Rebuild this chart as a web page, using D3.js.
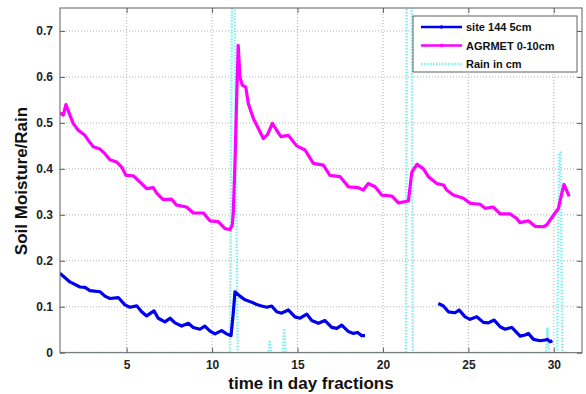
<!DOCTYPE html>
<html><head><meta charset="utf-8">
<script src="https://cdn.jsdelivr.net/npm/d3@7"></script>
<style>
body{margin:0;background:#fff;}
text{font-family:Arial,"Liberation Sans",sans-serif;font-weight:bold;}
</style></head>
<body><svg id="c" width="586" height="394"></svg>
<script>
const xTicks=[5,10,15,20,25,30];
const yTicks=[0,0.1,0.2,0.3,0.4,0.5,0.6,0.7];
const seriesNames=["site 144 5cm","AGRMET 0-10cm","Rain in cm"];

const siteTime=[1.09,1.68,2.27,2.56,2.85,3.44,3.73,4.02,4.51,4.90,5.19,5.59,5.88,6.17,6.60,6.85,7.24,7.54,7.83,8.22,8.61,8.90,9.29,9.58,9.88,10.17,10.56,10.85,11.11,11.24,11.34,11.63,11.93,12.32,12.61,12.90,13.20,13.49,13.78,14.07,14.46,14.85,15.15,15.54,15.83,16.22,16.61,17.0,17.30,17.59,17.98,18.27,18.52,18.76,18.95,21.0,23.24,23.54,23.83,24.22,24.46,24.81,25.10,25.49,25.88,26.17,26.51,26.86,27.15,27.54,28.03,28.32,28.51,28.81,29.20,29.49,29.63,29.78,29.92];
const siteValue=[0.173,0.154,0.143,0.142,0.135,0.1326,0.123,0.118,0.120,0.104,0.099,0.102,0.089,0.080,0.091,0.075,0.067,0.075,0.065,0.058,0.064,0.055,0.051,0.058,0.047,0.041,0.048,0.041,0.037,0.086,0.1326,0.123,0.115,0.110,0.105,0.1015,0.099,0.1015,0.089,0.086,0.093,0.078,0.075,0.084,0.070,0.064,0.070,0.055,0.053,0.060,0.046,0.042,0.044,0.037,0.037,null,0.107,0.1015,0.089,0.087,0.093,0.078,0.0726,0.078,0.066,0.065,0.071,0.0565,0.051,0.055,0.036,0.0385,0.042,0.029,0.026,0.0276,0.029,0.024,0.026];

const agrTime=[1.09,1.29,1.45,1.68,1.87,2.17,2.56,2.76,3.05,3.44,3.73,4.02,4.41,4.71,4.96,5.39,5.88,6.17,6.56,6.76,7.14,7.63,7.93,8.51,8.90,9.49,9.88,10.36,10.76,11.05,11.18,11.24,11.34,11.44,11.53,11.63,11.77,11.97,12.12,12.41,12.71,13.0,13.25,13.53,13.78,14.03,14.46,14.95,15.44,15.93,16.51,16.9,17.49,17.98,18.56,18.85,19.14,19.54,19.93,20.52,20.91,21.49,21.69,22.0,22.37,22.66,23.15,23.54,23.73,24.12,24.71,25.1,25.69,25.98,26.46,26.86,27.44,27.83,28.03,28.51,28.9,29.39,29.59,29.98,30.27,30.47,30.6,30.9];
const agrValue=[0.522,0.517,0.540,0.517,0.499,0.484,0.473,0.462,0.448,0.443,0.433,0.420,0.415,0.404,0.386,0.385,0.368,0.357,0.359,0.347,0.333,0.334,0.321,0.317,0.304,0.304,0.287,0.285,0.270,0.268,0.278,0.303,0.412,0.557,0.669,0.600,0.582,0.578,0.542,0.510,0.488,0.466,0.475,0.499,0.484,0.470,0.473,0.450,0.441,0.412,0.408,0.386,0.383,0.361,0.359,0.354,0.368,0.361,0.343,0.341,0.326,0.330,0.393,0.410,0.400,0.383,0.368,0.365,0.354,0.343,0.336,0.325,0.323,0.314,0.317,0.302,0.302,0.292,0.283,0.287,0.275,0.274,0.278,0.299,0.314,0.347,0.366,0.340];

const rainTime=[1.1,11.05,11.22,11.5,13.3,13.38,13.46,14.14,14.22,14.3,21.35,21.5,21.75,29.55,29.63,29.72,30.2,30.3,30.4,30.5,30.8];
const rainValue=[0,0,1.2,0,0,0.027,0,0,0.052,0,0,3,0,0,0.055,0,0,0.435,0.435,0,0];

const svg=d3.select("#c");
const L=60,R=582,T=8,B=352.7;
const x=d3.scaleLinear().domain([1.1,31.65]).range([L,R]);
const y=d3.scaleLinear().domain([0,0.75]).range([B,T]);

svg.append("defs").append("clipPath").attr("id","clip").append("rect")
  .attr("x",L).attr("y",T).attr("width",R-L).attr("height",B-T);

// grid
const g=svg.append("g");
g.selectAll(".gx").data(xTicks).join("line")
  .attr("x1",d=>x(d)).attr("x2",d=>x(d)).attr("y1",T).attr("y2",B)
  .attr("stroke","#b0b0b0").attr("stroke-width",1).attr("stroke-dasharray","1,2");
g.selectAll(".gy").data(yTicks.filter(d=>d>0)).join("line")
  .attr("x1",L).attr("x2",R).attr("y1",d=>y(d)).attr("y2",d=>y(d))
  .attr("stroke","#b0b0b0").attr("stroke-width",1).attr("stroke-dasharray","1,2");

const plot=svg.append("g").attr("clip-path","url(#clip)");
const rainPts=rainTime.map((t,i)=>[t,rainValue[i]]);
plot.append("path").datum(rainPts)
  .attr("d",d3.line().x(d=>x(d[0])).y(d=>y(d[1])))
  .attr("fill","none").attr("stroke","#7ff0f0").attr("stroke-width",2.5).attr("stroke-dasharray","1.5,1.5");

const agrPts=agrTime.map((t,i)=>[t,agrValue[i]]);
plot.append("path").datum(agrPts)
  .attr("d",d3.line().x(d=>x(d[0])).y(d=>y(d[1])))
  .attr("fill","none").attr("stroke","#ff00ff").attr("stroke-width",3.2).attr("stroke-linejoin","round");

const sitePts=siteTime.map((t,i)=>[t,siteValue[i]]);
plot.append("path").datum(sitePts)
  .attr("d",d3.line().defined(d=>d[1]!==null).x(d=>x(d[0])).y(d=>y(d[1])))
  .attr("fill","none").attr("stroke","#0000ee").attr("stroke-width",3.2).attr("stroke-linejoin","round");

// axes
const ax=svg.append("g");
ax.append("rect").attr("x",L).attr("y",T).attr("width",R-L).attr("height",B-T)
  .attr("fill","none").attr("stroke","#606060").attr("stroke-width",1);
const xb=ax.append("g").attr("transform",`translate(0,${B})`)
  .call(d3.axisBottom(x).tickValues(xTicks).tickSize(-5).tickPadding(8).tickFormat(d3.format("d")));
const xt=ax.append("g").attr("transform",`translate(0,${T})`)
  .call(d3.axisTop(x).tickValues(xTicks).tickSize(-5).tickFormat(""));
const yl=ax.append("g").attr("transform",`translate(${L},0)`)
  .call(d3.axisLeft(y).tickValues(yTicks).tickSize(-5).tickPadding(7).tickFormat(d=>d===0?"0":d3.format(".1f")(d)));
const yr=ax.append("g").attr("transform",`translate(${R},0)`)
  .call(d3.axisRight(y).tickValues(yTicks).tickSize(-5).tickFormat(""));
[xb,xt,yl,yr].forEach(a=>{a.select(".domain").remove();a.selectAll("line").attr("stroke","#606060");
  a.selectAll("text").attr("font-size",12).attr("font-weight","bold").attr("fill","#222");});

svg.append("text").attr("x",311).attr("y",389).attr("text-anchor","middle")
  .attr("font-size",17).attr("fill","#111").text("time in day fractions");
svg.append("text").attr("transform","translate(27,181) rotate(-90)").attr("text-anchor","middle")
  .attr("font-size",17).attr("fill","#111").text("Soil Moisture/Rain");

// legend
const lg=svg.append("g");
lg.append("rect").attr("x",413).attr("y",16).attr("width",164).attr("height",56)
  .attr("fill","#fff").attr("stroke","#606060").attr("stroke-width",1);
const legColors=["#0000ee","#ff00ff","#7ff0f0"];
seriesNames.forEach((n,i)=>{
  const yy=27+i*18.5;
  lg.append("line").attr("x1",421).attr("x2",462).attr("y1",yy).attr("y2",yy)
    .attr("stroke",legColors[i]).attr("stroke-width",i<2?2.5:2.5)
    .attr("stroke-dasharray",i===2?"1.5,1.5":null);
  if(i<2) lg.append("circle").attr("cx",441.5).attr("cy",yy).attr("r",1.8).attr("fill",legColors[i]);
  lg.append("text").attr("x",466).attr("y",yy+4).attr("font-size",11).attr("fill","#111").text(n);
});
</script></body></html>
